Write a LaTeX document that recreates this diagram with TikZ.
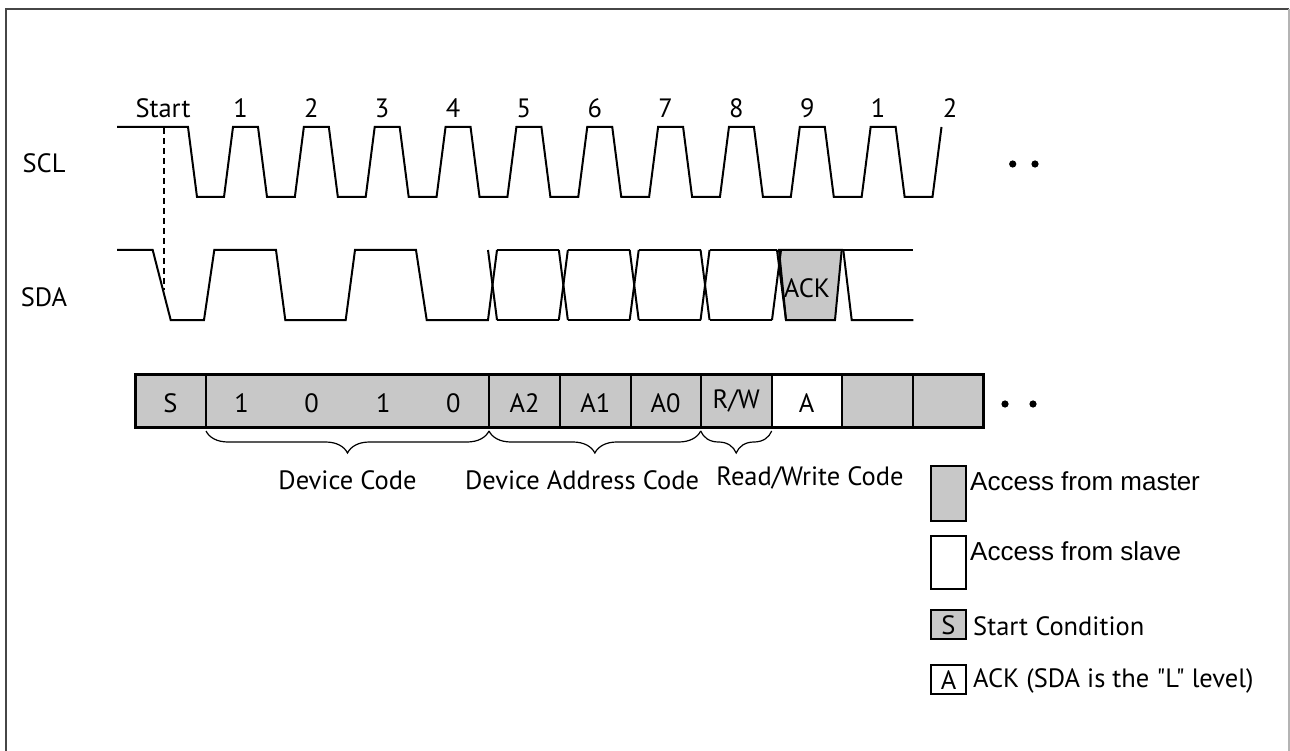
\documentclass[tikz,border=0pt]{standalone}
\usepackage{fontspec}
\setmainfont{PT Sans}
\newfontfamily\ptplain{PT Sans}[Ligatures=TeXOff]
\newfontfamily\arialf{Liberation Sans}
\usetikzlibrary{decorations.pathreplacing}
\definecolor{boxgray}{RGB}{200,200,200}
\definecolor{framedark}{RGB}{70,70,70}
\definecolor{framelight}{RGB}{180,180,180}
\tikzset{
  wave/.style={line width=2pt, black},
  lbl/.style={inner sep=0pt, font=\fontsize{26.5}{30}\selectfont},
  legtxt/.style={inner sep=0pt, anchor=west, font=\arialf\fontsize{26}{30}\selectfont},
  cellbox/.style={line width=2pt, draw=black},
  bracest/.style={decorate, decoration={brace, mirror, amplitude=22pt}, line width=1.2pt},
}
\begin{document}
\begin{tikzpicture}[x=1pt,y=-1pt]
\useasboundingbox (0,0) rectangle (1290,751);
% frame
\draw[framedark, line width=2.5pt] (6,760) -- (6,9) -- (1289,9);
\draw[framelight, line width=1.5pt] (1289,9) -- (1289,760);

% signal names
\node[lbl] (scl) at (44,163) {SCL};
\node[lbl] (sda) at (44,297) {SDA};

% SCL waveform
\draw[wave] (117,127) -- (188,127) -- (197,197)
  foreach \k in {0,...,9} { -- ({224+\k*70.85},197) -- ({233+\k*70.85},127) -- ({258+\k*70.85},127) -- ({267+\k*70.85},197) }
  -- (932.5,197) -- (941.5,127);

% SCL labels
\node[lbl] (tstart) at (163,108) {Start};
\foreach \k/\t in {0/1,1/2,2/3,3/4,4/5,5/6,6/7,7/8,8/9,9/1} {
  \node[lbl] (p\k) at ({240.5+\k*70.85},108) {\t};
}
\node[lbl] (p10) at (950,108) {2};

% dots
\fill (1012.7,164) circle (3.6pt) (1035,164) circle (3.6pt);
\fill (1005,404) circle (3.6pt) (1033,404) circle (3.6pt);

% start dashed line
\draw[line width=1.2pt, dash pattern=on 6pt off 4pt] (164,128) -- (164,290);

% SDA waveform
\draw[wave] (117,250) -- (152.7,250) -- (170.7,320) -- (204,320) -- (214.3,250) -- (276,250)
  -- (285.3,320) -- (345.7,320) -- (355,250) -- (416,250) -- (426.7,320) -- (488,320) -- (497,250);
\draw[wave] (488,250) -- (497,320);
\foreach \b in {558.85, 629.7, 700.55} {
  \draw[wave] (\b,320) -- ({\b+9},250);
  \draw[wave] (\b,250) -- ({\b+9},320);
}
\foreach \a/\b in {497/558.85, 567.85/629.7, 638.7/700.55} {
  \draw[wave] (\a,250) -- (\b,250);
  \draw[wave] (\a,320) -- (\b,320);
}
\draw[wave] (709.55,250) -- (777,250);
\draw[wave] (709.55,320) -- (772,320);
\draw[wave, fill=boxgray] (779,250) -- (841.7,250) -- (835,320) -- (786,320) -- cycle;
\draw[wave] (772,320) -- (781,250);
\draw[wave] (777,250) -- (786,320);
\node[lbl] (ack) at (807,288) {ACK};
\draw[wave] (841.7,250) -- (913.3,250);
\draw[wave] (843.3,250) -- (851.7,320) -- (913.3,320);

% byte frame
\fill[boxgray] (135,374) rectangle (983.3,427.7);
\fill[white] (771.7,374) rectangle (841.7,427.7);
\foreach \x in {206,489,560,630.7,700.7,771.7,841.7,912.7} {
  \draw[line width=2pt] (\x,374) -- (\x,427.7);
}
\draw[line width=3pt] (135,374) rectangle (983.3,427.7);
\node[lbl] (cs) at (170.5,403) {S};
\node[lbl] (b1) at (241.7,403) {1};
\node[lbl] (b2) at (311.7,403) {0};
\node[lbl] (b3) at (383.3,403) {1};
\node[lbl] (b4) at (453.3,403) {0};
\node[lbl] (ca2) at (524.5,403) {A2};
\node[lbl] (ca1) at (595.3,403) {A1};
\node[lbl] (ca0) at (665.7,403) {A0};
\node[lbl] (crw) at (736.2,401) {R/W};
\node[lbl] (ca) at (806.7,403) {A};

% braces
\draw[bracest] (206,431) -- (489,431);
\draw[bracest] (489,431) -- (700.7,431);
\draw[bracest] (700.7,431) -- (771.7,431);
\node[lbl] (dc) at (347.5,480) {Device Code};
\node[lbl] (dac) at (582,480) {Device Address Code};
\node[lbl] (rwc) at (810,478) {Read/Write Code};

% legend
\draw[cellbox, fill=boxgray] (931,466) rectangle (966,521);
\node[legtxt] (lm) at (970,481) {Access from master};
\draw[cellbox, fill=white] (931,536) rectangle (966,589);
\node[legtxt] (ls) at (970,551) {Access from slave};
\draw[cellbox, fill=boxgray] (931,610) rectangle (966,639);
\node[lbl] (lsb) at (948.5,625) {S};
\node[lbl, anchor=west] (lst) at (973,626) {Start Condition};
\draw[cellbox, fill=white] (931,665) rectangle (966,694);
\node[lbl] (lab) at (948.5,680) {A};
\node[lbl, anchor=west, font=\ptplain\fontsize{26.5}{30}\selectfont] (lat) at (973,681) {ACK (SDA is the "L" level)};
\end{tikzpicture}
\end{document}
